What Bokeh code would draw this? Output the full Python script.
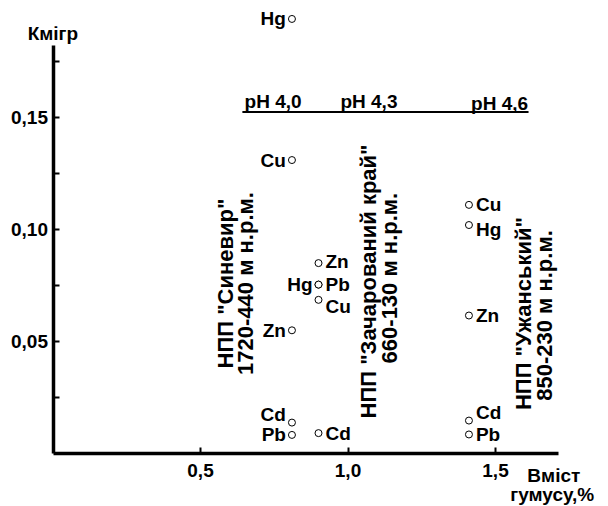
import math
from bokeh.plotting import figure
from bokeh.models import Range1d, FixedTicker, Label, ColumnDataSource
from bokeh.core.properties import value
from bokeh.embed import file_html
from bokeh.resources import INLINE

# ---- data ----
col_x = [0.81, 0.90, 1.41]
park_names = ['НПП "Синевир"', 'НПП "Зачарований край"', 'НПП "Ужанський"']
park_alt = ["1720-440 м н.р.м.", "660-130 м н.р.м.", "850-230 м н.р.м."]
ph_labels = ["pH 4,0", "pH 4,3", "pH 4,6"]

el1 = ["Hg", "Cu", "Zn", "Cd", "Pb"]
k1 = [0.194, 0.131, 0.055, 0.0138, 0.0083]
el2 = ["Zn", "Pb", "Hg", "Cu", "Cd"]
k2 = [0.085, 0.0754, 0.0754, 0.0686, 0.0091]
el3 = ["Cu", "Hg", "Zn", "Cd", "Pb"]
k3 = [0.111, 0.102, 0.0616, 0.0147, 0.0085]

x_ticks = [0.5, 1.0, 1.5]
x_tick_labels = ["0,5", "1,0", "1,5"]
y_ticks = [0.05, 0.10, 0.15]
y_tick_labels = ["0,05", "0,10", "0,15"]
y_minor = [0.025, 0.075, 0.125, 0.175]

# ---- layout / style ----
FONT = value("Liberation Sans")
W, H = 608, 506
X0PX, Y0PX = 52.5, 453.0   # pixel position of the origin
PX_X = 295.0               # pixels per unit x
PX_Y = 2240.0              # pixels per unit y

p = figure(width=W, height=H, output_backend="svg", toolbar_location=None,
           x_range=Range1d(-X0PX / PX_X, (W - X0PX) / PX_X),
           y_range=Range1d(-(H - Y0PX) / PX_Y, Y0PX / PX_Y),
           min_border=0, min_border_left=0, min_border_bottom=0,
           min_border_top=0, min_border_right=0)
p.outline_line_color = None
p.xgrid.visible = False
p.ygrid.visible = False
p.background_fill_color = "white"
p.border_fill_color = "white"

for ax in (p.xaxis[0], p.yaxis[0]):
    ax.fixed_location = 0
    ax.axis_line_width = 3.5
    ax.axis_line_color = "black"
    ax.major_tick_in = 6
    ax.major_tick_out = 0
    ax.minor_tick_in = 6
    ax.minor_tick_out = 0
    ax.major_tick_line_width = 2
    ax.minor_tick_line_width = 2
    ax.major_label_text_font = "Liberation Sans"
    ax.major_label_text_font_style = "bold"
    ax.major_label_text_font_size = "19px"
    ax.major_label_text_color = "black"

p.xaxis[0].ticker = FixedTicker(ticks=x_ticks)
p.xaxis[0].major_label_overrides = dict(zip(x_ticks, x_tick_labels))
p.xaxis[0].minor_tick_line_color = None
p.xaxis[0].bounds = (0, 1.714)
p.xaxis[0].major_label_standoff = 10

p.yaxis[0].ticker = FixedTicker(ticks=y_ticks, minor_ticks=y_minor)
p.yaxis[0].major_label_overrides = dict(zip(y_ticks, y_tick_labels))
p.yaxis[0].bounds = (0, 0.182)
p.yaxis[0].major_label_standoff = 5

# points
xs = [col_x[0]] * len(k1) + [col_x[1]] * len(k2) + [col_x[2]] * len(k3)
ys = k1 + k2 + k3
p.scatter(xs, ys, marker="circle", size=7, fill_color="white",
          line_color="black", line_width=1)

# point labels
left_x, left_y, left_t, left_dy = [], [], [], []
right_x, right_y, right_t, right_dy = [], [], [], []
dy1 = {"Cd": -8}
for e, k in zip(el1, k1):
    left_x.append(col_x[0]); left_y.append(k); left_t.append(e); left_dy.append(dy1.get(e, 0))
dy2 = {"Zn": -2, "Cu": 7}
for e, k in zip(el2, k2):
    if e == "Hg":
        left_x.append(col_x[1]); left_y.append(k); left_t.append(e); left_dy.append(0)
    else:
        right_x.append(col_x[1]); right_y.append(k); right_t.append(e); right_dy.append(dy2.get(e, 0))
dy3 = {"Hg": 4, "Cd": -8}
for e, k in zip(el3, k3):
    right_x.append(col_x[2]); right_y.append(k); right_t.append(e); right_dy.append(dy3.get(e, 0))

p.text(x="x", y="y", text="t", y_offset="dy",
       source=ColumnDataSource(dict(x=left_x, y=left_y, t=left_t, dy=left_dy)),
       x_offset=-6, text_align="right", text_baseline="middle",
       text_font=FONT, text_font_style="bold", text_font_size="19px", text_color="black")
p.text(x="x", y="y", text="t", y_offset="dy",
       source=ColumnDataSource(dict(x=right_x, y=right_y, t=right_t, dy=right_dy)),
       x_offset=7, text_align="left", text_baseline="middle",
       text_font=FONT, text_font_style="bold", text_font_size="19px", text_color="black")

# pH line and labels
p.segment(x0=[0.642], y0=[0.1524], x1=[1.612], y1=[0.1524], line_color="black", line_width=2)
p.text(x=[0.746, 1.071, 1.514], y=[0.1573, 0.1573, 0.1562], text=ph_labels,
       text_align="center", text_baseline="alphabetic",
       text_font=FONT, text_font_style="bold", text_font_size="19px", text_color="black")

# rotated park labels
p.text(x=[0.585, 1.069, 1.595], y=[0.0759, 0.0768, 0.0625], text=park_names,
       angle=math.pi / 2, text_align="center", text_baseline="middle",
       text_font=FONT, text_font_style="bold", text_font_size="22px", text_color="black")
p.text(x=[0.653, 1.141, 1.666], y=[0.0759, 0.0783, 0.0616], text=park_alt,
       angle=math.pi / 2, text_align="center", text_baseline="middle",
       text_font=FONT, text_font_style="bold", text_font_size="22px", text_color="black")

# axis titles
p.add_layout(Label(x=-0.086, y=0.1875, text="Кмігр", text_align="left",
                   text_baseline="alphabetic", text_font="Liberation Sans",
                   text_font_style="bold", text_font_size="19px", text_color="black"))
p.add_layout(Label(x=1.608, y=-0.0098, text="Вміст", text_align="left",
                   text_baseline="alphabetic", text_font="Liberation Sans",
                   text_font_style="bold", text_font_size="19px", text_color="black"))
p.add_layout(Label(x=1.55, y=-0.0181, text="гумусу,%", text_align="left",
                   text_baseline="alphabetic", text_font="Liberation Sans",
                   text_font_style="bold", text_font_size="19px", text_color="black"))

open("out.html", "w").write(file_html(p, INLINE))
